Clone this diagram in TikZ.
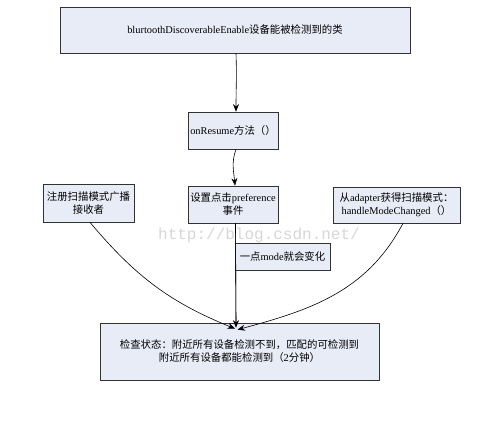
\documentclass[tikz,border=0pt]{standalone}
\usepackage{fontspec}
\setmainfont{Liberation Serif}
\newfontfamily\cjk{Noto Sans CJK SC}
\newfontfamily\wmfont{Liberation Mono}
\usetikzlibrary{arrows.meta,shadows}
\definecolor{boxfill}{RGB}{232,236,246}
\definecolor{boxline}{RGB}{50,50,50}
\begin{document}
\begin{tikzpicture}[x=1pt,y=-1pt,
  box/.style={draw=boxline,fill=boxfill,line width=0.7pt,rectangle,inner sep=0pt,
    align=center,font=\fontsize{10.4}{13}\selectfont,
    general shadow={shadow xshift=0.8pt,shadow yshift=-0.8pt,fill=gray!70}},
  conn/.style={draw=black,line width=0.6pt,-{Stealth[length=7.5pt,width=6pt]}},
  plain/.style={draw=black,line width=0.6pt}]
\useasboundingbox (0,0) rectangle (503,446);
\node[box,minimum width=350pt,minimum height=46pt] (top) at (235,30)
  {blurtoothDiscoverableEnable{\cjk 设备能被检测到的类}};
\node[box,minimum width=90pt,minimum height=37pt] (onres) at (233,130.5)
  {onResume{\cjk 方法（）}};
\node[box,minimum width=90pt,minimum height=37pt] (pref) at (233,204.5)
  {{\cjk 设置点击}preference\\{\cjk 事件}};
\node[box,minimum width=91pt,minimum height=38pt] (left) at (88.5,203)
  {{\cjk 注册扫描模式广播}\\{\cjk 接收者}};
\node[box,minimum width=127pt,minimum height=36pt] (right) at (396.5,205)
  {{\cjk 从}adapter{\cjk 获得扫描模式：}\\handleModeChanged{\cjk （）}};
\node[box,minimum width=279pt,minimum height=57pt] (bot) at (239.5,351.5)
  {{\cjk 检查状态：附近所有设备检测不到，匹配的可检测到}\\{\cjk 附近所有设备都能检测到（}2{\cjk 分钟）}};
\node[text=gray!32,font=\wmfont\fontsize{16}{16}\selectfont,inner sep=0pt] (wm) at (259,235) {http://blog.csdn.net/};
\draw[conn] ([xshift=1pt]top.south) to[out=-88,in=90] ([xshift=3pt]onres.north);
\draw[conn] ([xshift=3pt]onres.south) to[out=-110,in=95] ([xshift=2pt]pref.north);
\draw[plain] ([xshift=2.5pt]pref.south) -- ([xshift=-3.5pt]bot.north);
\node[box,minimum width=95pt,minimum height=27pt] (mode) at (282.5,256.5)
  {{\cjk 一点}mode{\cjk 就会变化}};
\draw[conn] ([xshift=2.5pt]pref.south) -- ([xshift=-3.5pt,yshift=-5pt]bot.north);
\draw[conn] ([xshift=1.5pt]left.south) to[out=-50,in=158] ([xshift=-4.5pt,yshift=-6pt]bot.north);
\draw[conn] ([xshift=6.5pt]right.south) to[out=-118,in=15] ([xshift=-2pt,yshift=-7pt]bot.north);
\end{tikzpicture}
\end{document}
